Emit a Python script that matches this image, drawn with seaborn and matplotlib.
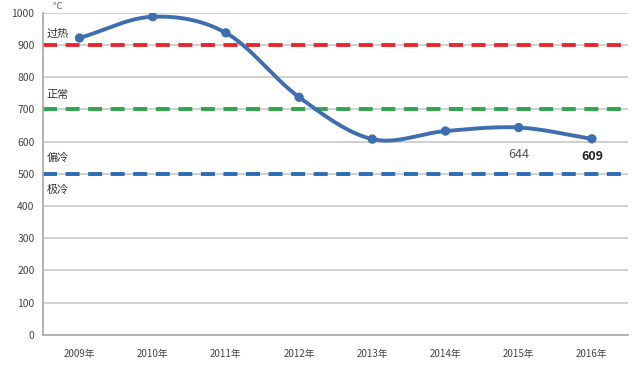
import numpy as np
import pandas as pd
import matplotlib
matplotlib.use("Agg")
import matplotlib.pyplot as plt
import seaborn as sns

years = ["2009年", "2010年", "2011年", "2012年", "2013年", "2014年", "2015年", "2016年"]
values = [922, 988, 938, 738, 608, 633, 644, 609]
thresholds = [900, 700, 500]
threshold_colors = ["#e8262d", "#2ea64a", "#2b6cb5"]
zone_labels = ["过热", "正常", "偏冷", "极冷"]
zone_label_y = [935, 745, 550, 450]
value_labels = {6: "644", 7: "609"}
value_label_y = {6: 560, 7: 553}

sns.set_theme(style="white")
plt.rcParams['font.family'] = ['Noto Sans CJK SC', 'DejaVu Sans']

fig = plt.figure(figsize=(6.4, 3.68), dpi=100)
ax = fig.add_axes([0.067, 0.09, 0.915, 0.875])

df = pd.DataFrame({"year": years, "value": values})
x = np.arange(len(years))

# smooth curve (Catmull-Rom) through the data points
def catmull(xs, ys, n=30):
    px = np.concatenate([[2*xs[0]-xs[1]], xs, [2*xs[-1]-xs[-2]]])
    py = np.concatenate([[2*ys[0]-ys[1]], ys, [2*ys[-1]-ys[-2]]])
    ox, oy = [], []
    for i in range(1, len(px)-2):
        t = np.linspace(0, 1, n)
        for arr, out in ((px, ox), (py, oy)):
            p0, p1, p2, p3 = arr[i-1], arr[i], arr[i+1], arr[i+2]
            out.extend(0.5*((2*p1) + (-p0+p2)*t + (2*p0-5*p1+4*p2-p3)*t**2 + (-p0+3*p1-3*p2+p3)*t**3))
    return np.array(ox), np.array(oy)

for yv in range(100, 1001, 100):
    ax.axhline(yv, color="#c8c8c8", lw=1.2, zorder=0)

for t, c in zip(thresholds, threshold_colors):
    ax.axhline(t, color=c, lw=2.8, ls=(0, (3.6, 2.2)), zorder=2)

sx, sy = catmull(x.astype(float), np.array(values, dtype=float))
ax.plot(sx, sy, color="#3e6db0", lw=2.8, zorder=3)
sns.scatterplot(x=x, y=df["value"], color="#3e6db0", s=45, edgecolor="none", zorder=4, ax=ax)

for lab, yv in zip(zone_labels, zone_label_y):
    ax.text(-0.45, yv, lab, fontsize=8, color="#333333", va="center", ha="left")

for i, lab in value_labels.items():
    ax.text(x[i], value_label_y[i], lab, fontsize=9, ha="center", va="center",
            color="#555555" if i == 6 else "#222222", fontweight="normal" if i == 6 else "bold")

ax.text(-0.3, 1005, "℃", fontsize=7, color="#666666", va="bottom", ha="center", clip_on=False)

ax.set_xlim(-0.5, len(years) - 0.5)
ax.set_ylim(0, 1000)
ax.set_yticks(range(0, 1001, 100))
ax.set_xticks(x)
ax.set_xticklabels(years, fontsize=7, color="#444444")
ax.tick_params(axis="y", labelsize=7.5, labelcolor="#444444", length=0, pad=6)
ax.set_xticks(np.arange(-0.5, len(years), 1), minor=True)
ax.tick_params(axis="x", which="minor", length=3, color="#999999", direction="out")
ax.tick_params(axis="x", which="major", length=0, pad=10)
for s in ["top", "right"]:
    ax.spines[s].set_visible(False)
ax.spines["left"].set_color("#aaaaaa")
ax.spines["bottom"].set_color("#aaaaaa")
ax.set_xlabel("")
ax.set_ylabel("")

fig.savefig("out.png", dpi=100, facecolor="white")
